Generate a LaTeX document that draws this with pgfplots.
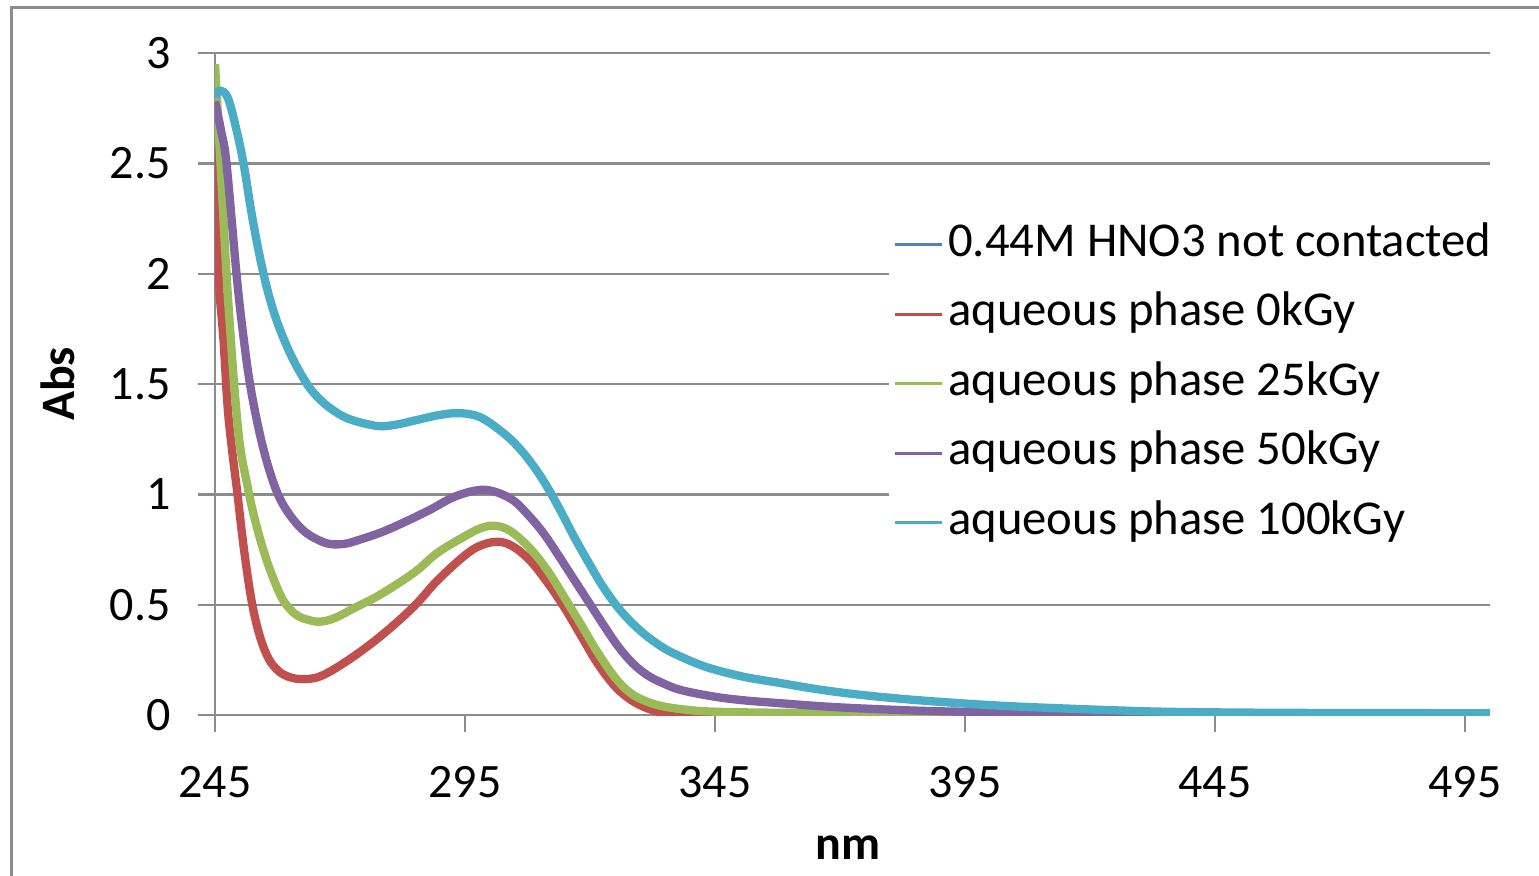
\documentclass[border=0pt]{standalone}
\usepackage{fontspec}
\setmainfont{Carlito}
\usepackage{pgfplots}
\pgfplotsset{compat=1.18}
\definecolor{cblue}{HTML}{4F81BD}
\definecolor{cred}{HTML}{C0504D}
\definecolor{cgreen}{HTML}{9BBB59}
\definecolor{cpurple}{HTML}{8064A2}
\definecolor{ccyan}{HTML}{4BACC6}
\definecolor{gridgray}{HTML}{8C8C8C}
\begin{document}
\begin{tikzpicture}
\path[use as bounding box] (-64.5pt,-48.3pt) rectangle (397.2pt,214.5pt);
\begin{axis}[
  at={(0,0)}, anchor=south west,
  scale only axis, width=382.5pt, height=198.6pt,
  xmin=245, xmax=500, ymin=0, ymax=3,
  axis x line*=bottom, axis y line*=left,
  axis line style={gridgray, line width=0.7pt},
  xtick={245,295,345,395,445,495},
  ytick={0,0.5,1,1.5,2,2.5,3},
  yticklabels={0,0.5,1,1.5,2,2.5,3},
  ymajorgrids, grid style={gridgray, line width=0.7pt},
  tick align=outside, major tick length=5pt,
  tick style={gridgray, line width=0.7pt},
  font=\fontsize{14.4}{17}\selectfont,
  /pgf/number format/assume math mode=true,
  xticklabel style={inner sep=0pt, anchor=base, yshift=-19.8pt},
  yticklabel style={inner sep=0pt, anchor=east, xshift=-8.1pt},
  xlabel={\textbf{nm}}, ylabel={\textbf{Abs}},
  every axis x label/.style={at={(axis description cs:0.4965,-0.2)}, anchor=center},
  every axis y label/.style={at={(axis description cs:-0.1231,0.5)}, anchor=center, rotate=90},
  legend cell align=left,
  legend style={at={(rel axis cs:0.5278,0.762)}, anchor=north west, draw=none, fill=white,
    inner xsep=1.5pt, inner ysep=3pt, row sep=6.85pt,
    nodes={inner xsep=1.5pt, inner ysep=0pt, text height=10.5pt, text depth=3.5pt},
    font=\fontsize{14.6}{17}\selectfont},
  legend image code/.code={\draw[#1, line width=0.9pt] (0pt,0pt) -- (14pt,0pt);},
  every axis plot/.append style={line width=2.5pt, smooth, tension=0.6, line join=round},
]
\addplot[cblue, line width=1.5pt] coordinates {
(245,2.60) (245.2,2.50) (245.7,2.00) (246.7,1.70) (247.7,1.35) (249.5,1.00) (250.8,0.75)
(252.3,0.52) (253.8,0.37) (255.4,0.27) (257,0.215) (259,0.18) (262,0.163) (266,0.175) (271.4,0.245) (278,0.355)
(284.7,0.49) (289.5,0.61) (294.8,0.72) (298,0.767) (301.5,0.785) (304.5,0.765) (308,0.70)
(311.5,0.60) (314.8,0.49) (318.2,0.36) (321.5,0.234) (325,0.13) (328.2,0.068) (331.5,0.03)
(334.9,0.01) (340,0.003) (360,0.001) (400,0.0) (500,0.0)};
\addlegendentry{0.44M HNO3 not contacted}
\addplot[cred] coordinates {
(245,2.60) (245.2,2.50) (245.7,2.00) (246.7,1.70) (247.7,1.35) (249.5,1.00) (250.8,0.75)
(252.3,0.52) (253.8,0.37) (255.4,0.27) (257,0.215) (259,0.18) (262,0.163) (266,0.175) (271.4,0.245) (278,0.355)
(284.7,0.49) (289.5,0.61) (294.8,0.72) (298,0.767) (301.5,0.785) (304.5,0.765) (308,0.70)
(311.5,0.60) (314.8,0.49) (318.2,0.36) (321.5,0.234) (325,0.13) (328.2,0.068) (331.5,0.03)
(334.9,0.01) (340,0.003) (360,0.001) (400,0.0) (500,0.0)};
\addlegendentry{aqueous phase 0kGy}
\addplot[cgreen] coordinates {
(245,2.95) (245.5,2.75) (246.1,2.50) (247.3,2.00) (248.3,1.66) (249,1.45) (250,1.22)
(251.3,1.06) (252.5,0.93) (254,0.80) (255.5,0.69) (257,0.60) (258.5,0.525) (260,0.48)
(261.5,0.45) (263.5,0.432) (266,0.423)
(269,0.44) (273.3,0.49) (278,0.545) (284.8,0.645) (289.5,0.735) (294.8,0.808) (298,0.845)
(300.8,0.858) (304,0.835) (308,0.755) (311.5,0.655) (314.8,0.536) (318.2,0.41) (321.5,0.285)
(325,0.17) (328.2,0.098) (331.5,0.06) (334.9,0.038) (340,0.022) (345,0.015) (354,0.011)
(370,0.008) (400,0.005) (500,0.003)};
\addlegendentry{aqueous phase 25kGy}
\addplot[cpurple] coordinates {
(245,2.78) (246.2,2.65) (247.3,2.50) (249.3,2.00) (250.5,1.75) (252,1.50) (254,1.27)
(256,1.10) (258,0.98) (260.5,0.89) (263,0.83) (265.5,0.795) (268,0.775) (271,0.776)
(274,0.795) (278.5,0.83) (283,0.875) (288,0.93) (293,0.99) (298,1.02) (301.5,1.008)
(304.8,0.97) (307.5,0.91) (310.5,0.83) (313.5,0.73) (316.5,0.625) (319.5,0.52) (322.5,0.415)
(325.5,0.315) (328.5,0.235) (331.5,0.18) (334.5,0.145) (338.2,0.113) (344.9,0.083) (351,0.066) (358.3,0.053)
(366,0.04) (374,0.03) (385,0.02) (394,0.015) (410,0.011) (430,0.008) (460,0.006) (500,0.005)};
\addlegendentry{aqueous phase 50kGy}
\addplot[ccyan] coordinates {
(245,2.80) (246,2.83) (247.5,2.80) (249,2.68) (250.7,2.50) (252.5,2.25) (254.7,2.00)
(257,1.81) (260,1.64) (263.4,1.50) (266,1.43) (268.7,1.38) (272,1.34)
(277.4,1.31) (281,1.315) (285.4,1.337) (290,1.36) (294,1.368) (298,1.35) (302,1.29)
(305,1.23) (308,1.15) (311,1.05) (314,0.93) (317,0.80) (320,0.68) (322.5,0.585)
(325.5,0.49) (328.5,0.415) (331.5,0.355) (335,0.30) (338.2,0.264) (341.5,0.232) (344.9,0.206)
(351,0.172) (358.3,0.144) (366,0.115) (374.3,0.091) (384,0.07) (394.3,0.053) (404,0.04)
(414.4,0.030) (424,0.022) (434.5,0.015) (450,0.011) (470,0.009) (500,0.008)};
\addlegendentry{aqueous phase 100kGy}
\end{axis}
\draw[gridgray, line width=0.9pt] (-60.9pt,-60pt) -- (-60.9pt,212.1pt) -- (420pt,212.1pt);
\end{tikzpicture}
\end{document}
